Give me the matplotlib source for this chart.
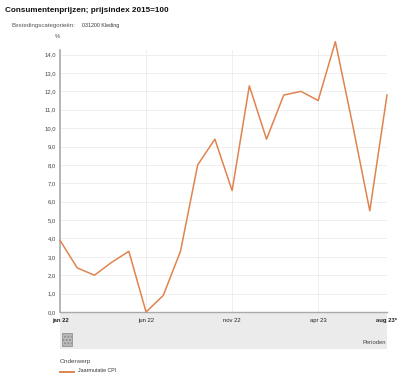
import matplotlib
matplotlib.use('Agg')
import matplotlib.pyplot as plt
from matplotlib.patches import Rectangle
from matplotlib.lines import Line2D

# Jaarmutatie CPI, kleding, jan 2022 - aug 2023
months = ['jan 22', 'feb 22', 'mrt 22', 'apr 22', 'mei 22', 'jun 22', 'jul 22',
          'aug 22', 'sep 22', 'okt 22', 'nov 22', 'dec 22', 'jan 23', 'feb 23',
          'mrt 23', 'apr 23', 'mei 23', 'jun 23', 'jul 23', 'aug 23*']
cpi = [3.9, 2.4, 2.0, 2.7, 3.3, 0.0, 0.9, 3.3, 8.0, 9.4, 6.6, 12.3, 9.4, 11.8,
       12.0, 11.5, 14.7, 10.2, 5.5, 11.8]
shown_ticks = ['jan 22', 'jun 22', 'nov 22', 'apr 23', 'aug 23*']
y_ticks = [0, 1, 2, 3, 4, 5, 6, 7, 8, 9, 10, 11, 12, 13, 14]

W, H = 398, 375
fig = plt.figure(figsize=(W / 100, H / 100), dpi=100)
plt.rcParams['font.family'] = ['Liberation Sans', 'DejaVu Sans']

def fx(px):
    return px / W

def fy(py):
    return 1 - py / H

left, right, bottom, top = 60, 387, 312, 50
ax = fig.add_axes([fx(left), fy(bottom), fx(right - left), fy(top) - fy(bottom)])
ax.set_zorder(1)

x = list(range(len(months)))
ax.plot(x, cpi, color='#e0834f', lw=1.1, clip_on=False, zorder=3)

ax.set_xlim(0, len(months) - 1)
ax.set_ylim(0, 14.25)
ax.set_yticks(y_ticks)
ax.set_yticklabels([f'{v:.1f}'.replace('.', ',') for v in y_ticks], fontsize=4.2, color='#444444')
tick_pos = [months.index(m) for m in shown_ticks]
ax.set_xticks(tick_pos)
ax.set_xticklabels([])
ax.tick_params(axis='both', length=0, pad=3)
ax.grid(True, color='#ececec', lw=0.6)
ax.set_axisbelow(True)
for s in ['top', 'right']:
    ax.spines[s].set_visible(False)
ax.spines['left'].set_color('#aaaaaa')
ax.spines['left'].set_linewidth(1.2)
ax.spines['bottom'].set_color('#aaaaaa')
ax.spines['bottom'].set_linewidth(1.0)

# x labels drawn as text so first/last can be bold
for m, p in zip(shown_ticks, tick_pos):
    bold = m in (shown_ticks[0], shown_ticks[-1])
    ax.text(p, -0.3, m, ha='center', va='top', fontsize=4.2,
            fontweight='bold' if bold else 'normal', color='#222222',
            transform=ax.transData, clip_on=False)

# gray period band below chart
band = Rectangle((fx(60), fy(349)), fx(327), fy(313) - fy(349),
                 transform=fig.transFigure, facecolor='#ebebeb', edgecolor='none', zorder=-2)
fig.patches.append(band)
icon = Rectangle((fx(62), fy(346)), fx(10), fy(333) - fy(346),
                 transform=fig.transFigure, facecolor='#bdbdbd', edgecolor='#8a8a8a',
                 lw=0.5, hatch='.....', zorder=-1)
fig.patches.append(icon)
fig.text(fx(386), fy(343), 'Perioden', ha='right', va='center', fontsize=4.2, color='#444444')

# titles
fig.text(fx(5), fy(10), 'Consumentenprijzen; prijsindex 2015=100', ha='left', va='center',
         fontsize=5.9, fontweight='bold', color='#111111')
fig.text(fx(12), fy(25), 'Bestedingscategorieën:', ha='left', va='center',
         fontsize=4.4, color='#555555')
fig.text(fx(82), fy(25), '031200 Kleding', ha='left', va='center',
         fontsize=3.8, color='#333333')
fig.text(fx(57), fy(36), '%', ha='center', va='center', fontsize=4.2, color='#444444')

# legend
fig.text(fx(60), fy(362), 'Onderwerp', ha='left', va='center', fontsize=4.6, color='#444444')
fig.lines.append(Line2D([fx(60), fx(74)], [fy(372), fy(372)], transform=fig.transFigure,
                        color='#e0834f', lw=1.4))
fig.text(fx(78), fy(370), 'Jaarmutatie CPI', ha='left', va='center', fontsize=3.8, color='#333333')

fig.savefig('out.png', dpi=100)
